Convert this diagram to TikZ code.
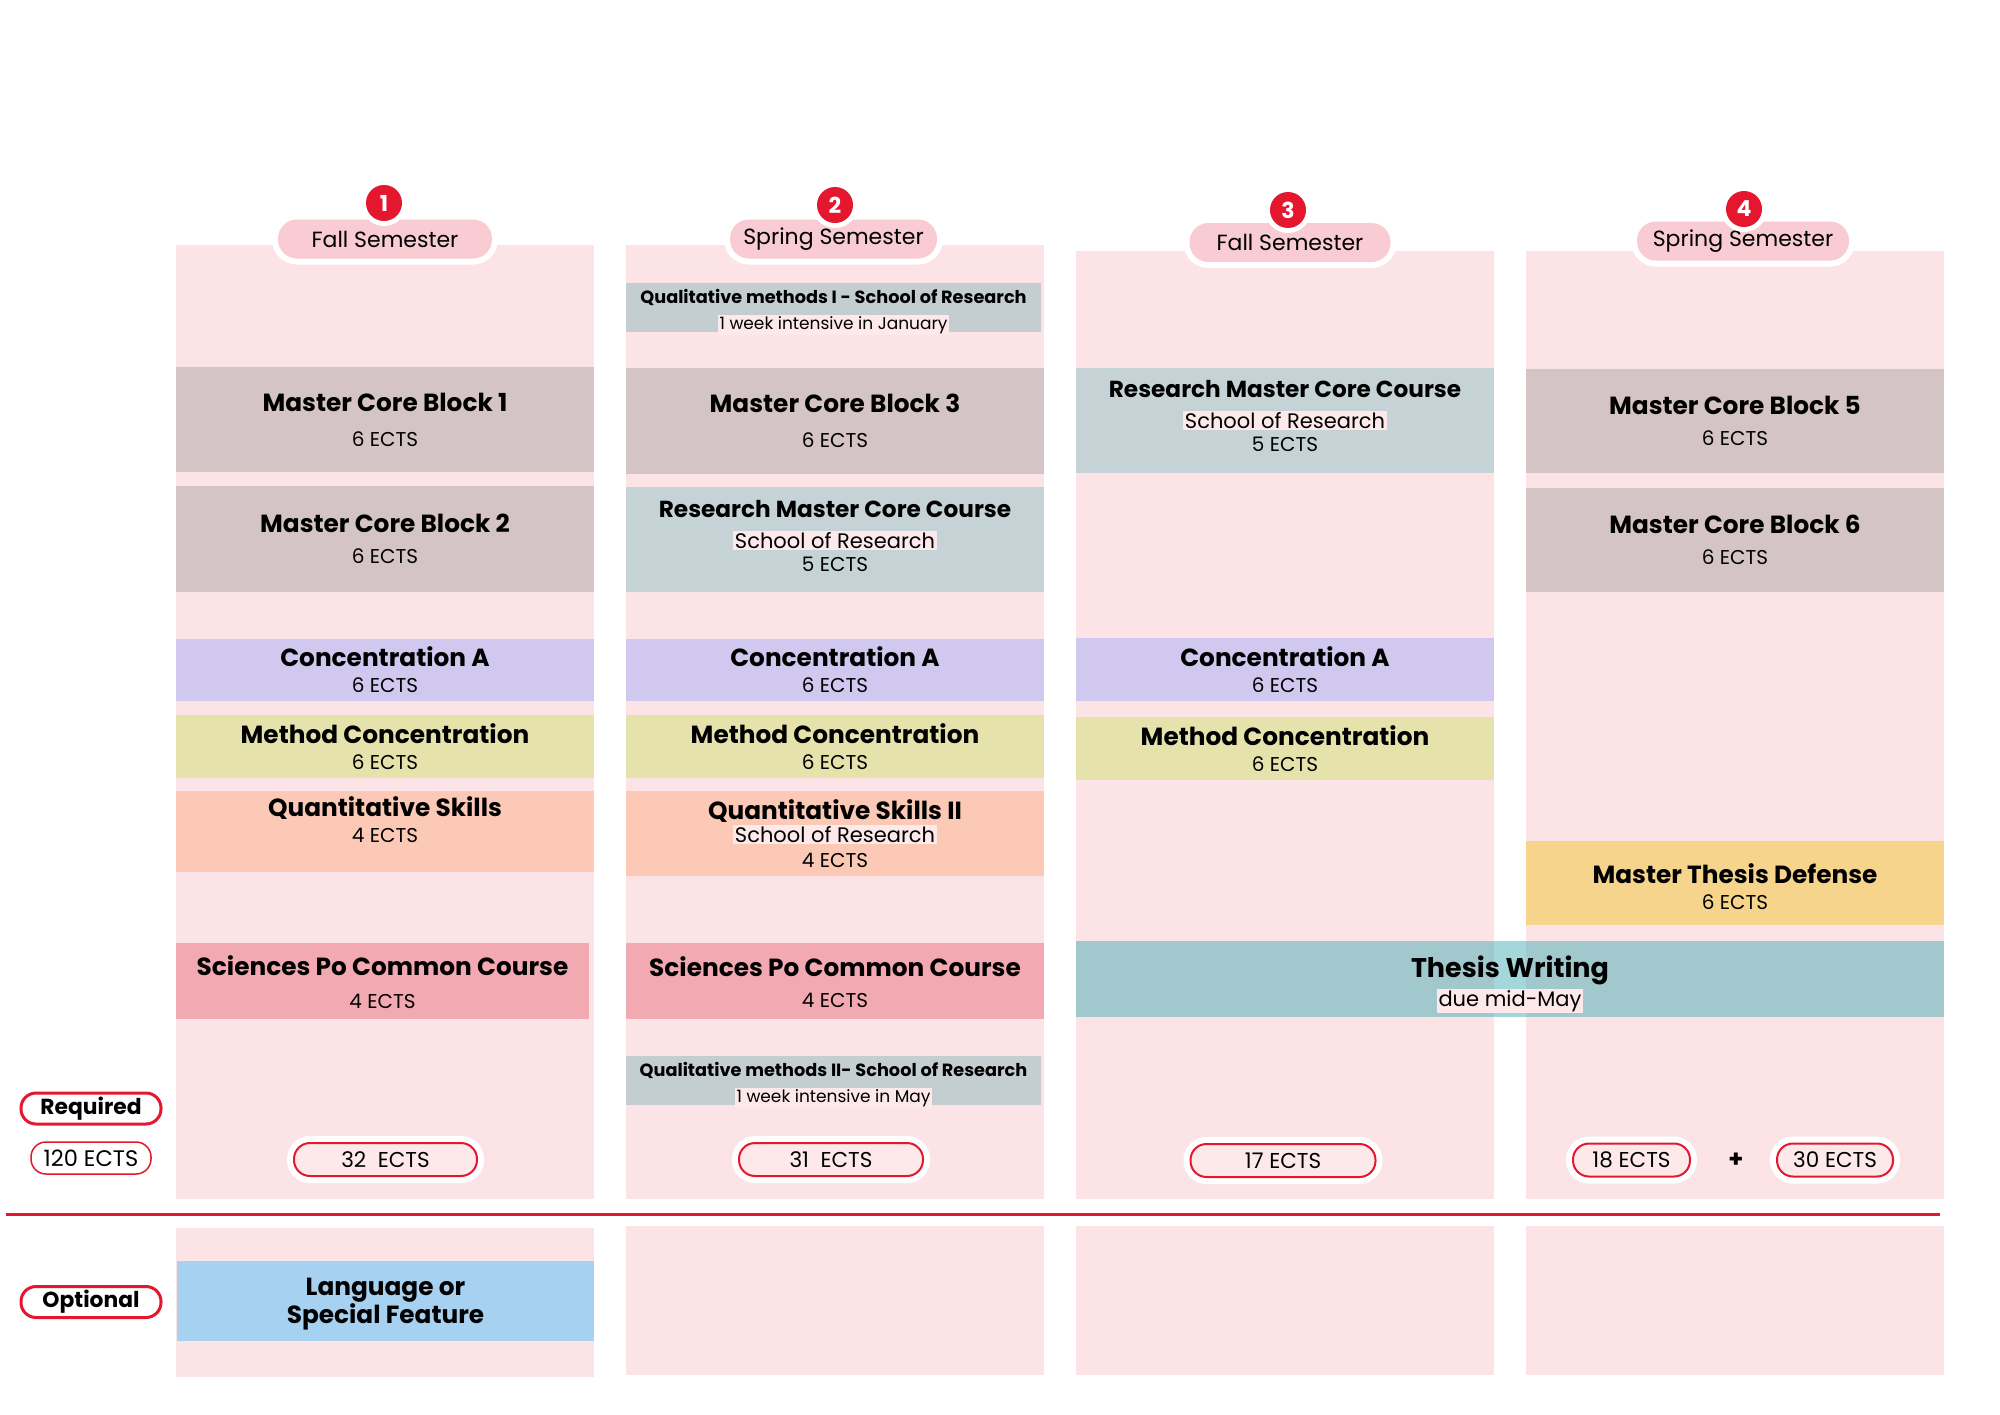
\documentclass[tikz,border=0pt]{standalone}
\usepackage{fontspec}
\setmainfont{Poppins}
\usetikzlibrary{positioning}
\definecolor{colpink}{RGB}{252,228,230}
\definecolor{headpink}{RGB}{249,203,210}
\definecolor{spred}{RGB}{228,23,47}
\definecolor{corecol}{RGB}{213,196,197}
\definecolor{rescol}{RGB}{197,211,214}
\definecolor{qualcol}{RGB}{196,205,208}
\definecolor{conccol}{RGB}{208,200,239}
\definecolor{methcol}{RGB}{229,227,171}
\definecolor{quantcol}{RGB}{251,201,182}
\definecolor{scpocol}{RGB}{243,169,178}
\definecolor{defcol}{RGB}{246,212,140}
\definecolor{thesiscol}{RGB}{52,167,176}
\definecolor{langcol}{RGB}{167,209,240}
\definecolor{hilite}{RGB}{253,232,234}
\newcommand{\hl}[1]{{\setlength{\fboxsep}{1.5pt}\colorbox{hilite}{\fontsize{21}{21}\selectfont #1}}}
\newcommand{\ttl}[1]{{\bfseries\fontsize{24.8}{24.8}\selectfont #1}}
\newcommand{\lift}[1]{\rule{0pt}{#1}}
\newcommand{\sink}[1]{\rule[-#1]{0pt}{#1}}
\tikzset{
    column/.style = {rectangle, fill=colpink, minimum width=418pt, inner sep=0pt},
    cell/.style = {rectangle, minimum width=418pt, inner sep=0pt, align=center, font=\fontsize{20}{23}\selectfont},
    corecell/.style = {cell, fill=corecol},
    rescell/.style = {cell, fill=rescol},
    qualcell/.style = {cell, fill=qualcol, minimum width=415pt, minimum height=49pt, inner ysep=-5pt, font=\fontsize{17}{20}\selectfont},
    conccell/.style = {cell, fill=conccol, minimum height=62pt},
    methcell/.style = {cell, fill=methcol, minimum height=63pt},
    quantcell/.style = {cell, fill=quantcol},
    scpocell/.style = {cell, fill=scpocol, minimum height=76pt},
    defcell/.style = {cell, fill=defcol, minimum height=84pt},
    semhead/.style = {rectangle, rounded corners=19pt, fill=headpink, preaction={draw=white, line width=12pt}, minimum height=39pt, inner sep=0pt, font=\fontsize{22}{24}\selectfont},
    semnum/.style = {circle, fill=spred, text=white, minimum size=36pt, inner sep=0pt, preaction={draw=white, line width=10pt}, font=\bfseries\fontsize{22}{22}\selectfont},
    ectspill/.style = {rectangle, rounded corners=16pt, draw=spred, line width=2pt, fill=hilite, preaction={draw=white, line width=14pt}, minimum height=33pt, inner sep=0pt, font=\fontsize{21.5}{21.5}\selectfont},
    sidepill/.style = {rectangle, rounded corners=15pt, draw=spred, fill=white, minimum height=31pt, inner sep=0pt}
}
\begin{document}
\begin{tikzpicture}[x=1pt, y=-1pt]
  \useasboundingbox (0,0) rectangle (2000,1414);

  % semester columns
  \node[column, minimum height=954pt] at (385,722) (col1) {};
  \node[column, minimum height=954pt] at (835,722) (col2) {};
  \node[column, minimum height=948pt] at (1285,725) (col3) {};
  \node[column, minimum height=948pt] at (1735,725) (col4) {};
  \node[column, minimum height=149pt] at (385,1302) (opt1) {};
  \node[column, minimum height=149pt] at (835,1300) (opt2) {};
  \node[column, minimum height=149pt] at (1285,1300) (opt3) {};
  \node[column, minimum height=149pt] at (1735,1300) (opt4) {};

  % first semester
  \node[corecell, minimum height=105pt] at (385,419.5) (mcb1) {\ttl{Master Core Block 1}\\[12pt]6 ECTS};
  \node[corecell, minimum height=106pt] at (385,539) (mcb2) {\ttl{Master Core Block 2}\\[8pt]6 ECTS};
  \node[conccell] at (385,670) (conc1) {\ttl{Concentration A}\\[3pt]6 ECTS};
  \node[methcell] at (385,746.5) (meth1) {\ttl{Method Concentration}\\[3pt]6 ECTS};
  \node[quantcell, minimum height=81pt] at (385,831.5) (quant1) {\ttl{Quantitative Skills}\\[3pt]4 ECTS\sink{23pt}};
  \node[scpocell, minimum width=413pt] at (382.5,981) (scpo1) {\ttl{\lift{22pt}Sciences Po Common Course}\\[10pt]4 ECTS};
  \node[cell, fill=langcol, minimum width=417pt, minimum height=80pt, font=\bfseries\fontsize{24.8}{25.5}\selectfont] at (385.5,1301) (lang) {\lift{24pt}Language or\\Special Feature};

  % second semester
  \node[qualcell] at (833.5,307.5) (qual1) {\textbf{\fontsize{17.7}{17.7}\selectfont\lift{23pt}Qualitative methods I - School of Research}\\[6pt]\hl{\fontsize{17}{17}\selectfont 1 week intensive in January}};
  \node[corecell, minimum height=106pt] at (835,421) (mcb3) {\ttl{Master Core Block 3}\\[12pt]6 ECTS};
  \node[rescell, minimum height=105pt] at (835,539.5) (rmcc2) {{\bfseries\fontsize{23.2}{23.2}\selectfont Research Master Core Course}\\[8pt]\hl{School of Research}\\[0pt]5 ECTS\sink{8pt}};
  \node[conccell] at (835,670) (conc2) {\ttl{Concentration A}\\[3pt]6 ECTS};
  \node[methcell] at (835,746.5) (meth2) {\ttl{Method Concentration}\\[3pt]6 ECTS};
  \node[quantcell, minimum height=85pt] at (835,833.5) (quant2) {\ttl{Quantitative Skills II}\\[0pt]\hl{School of Research}\\[2pt]4 ECTS};
  \node[scpocell] at (835,981) (scpo2) {\ttl{\lift{22pt}Sciences Po Common Course}\\[8pt]4 ECTS};
  \node[qualcell] at (833.5,1080.5) (qual2) {\textbf{\fontsize{17.7}{17.7}\selectfont\lift{23pt}Qualitative methods II- School of Research}\\[6pt]\hl{\fontsize{17}{17}\selectfont 1 week intensive in May}};

  % third semester
  \node[rescell, minimum height=105pt] at (1285,420.5) (rmcc3) {{\bfseries\fontsize{23.2}{23.2}\selectfont Research Master Core Course}\\[8pt]\hl{School of Research}\\[0pt]5 ECTS\sink{9pt}};
  \node[conccell, minimum height=63pt] at (1285,669.5) (conc3) {\ttl{Concentration A}\\[3pt]6 ECTS};
  \node[methcell] at (1285,748.5) (meth3) {\ttl{Method Concentration}\\[3pt]6 ECTS};

  % fourth semester
  \node[corecell, minimum height=104pt] at (1735,421) (mcb5) {\ttl{Master Core Block 5}\\[8pt]6 ECTS};
  \node[corecell, minimum height=104pt] at (1735,540) (mcb6) {\ttl{Master Core Block 6}\\[8pt]6 ECTS};
  \node[defcell] at (1735,883) (defense) {\ttl{\lift{28pt}Master Thesis Defense}\\[3pt]6 ECTS};
  \node[cell, fill=thesiscol, fill opacity=0.45, text opacity=1, minimum width=868pt, minimum height=76pt] at (1510,979) (thesis) {{\bfseries\fontsize{27}{27}\selectfont\lift{32pt}Thesis Writing}\\[3pt]\hl{due mid-May}};

  % semester headers
  \node[semhead, minimum width=214pt] at (385,239) (sem1) {Fall Semester};
  \node[semhead, minimum width=207pt] at (833.5,239) (sem2) {Spring Semester};
  \node[semhead, minimum width=201pt] at (1290,242.5) (sem3) {Fall Semester};
  \node[semhead, minimum width=212pt] at (1743,241) (sem4) {Spring Semester};
  \node[semnum] at (384,203) (num1) {1};
  \node[semnum] at (835,205) (num2) {2};
  \node[semnum] at (1288,210) (num3) {3};
  \node[semnum] at (1744,209) (num4) {4};

  % credits
  \node[ectspill, minimum width=183pt] at (385.5,1159.5) (ects1) {32\ \ ECTS};
  \node[ectspill, minimum width=184pt] at (831,1159.5) (ects2) {31\ \ ECTS};
  \node[ectspill, minimum width=185pt] at (1283,1160.5) (ects3) {17 ECTS};
  \node[ectspill, minimum width=117pt] at (1631.5,1160) (ects4a) {18 ECTS};
  \node[font=\bfseries\fontsize{24}{24}\selectfont] at (1736,1160) (plus) {+};
  \node[ectspill, minimum width=116pt] at (1835,1160) (ects4b) {30 ECTS};

  % required / optional
  \coordinate (divl) at (6,1214);
  \coordinate (divr) at (1940,1214);
  \draw[spred, line width=3pt] (divl) -- (divr);
  \node[sidepill, line width=3pt, minimum width=140pt, font=\bfseries\fontsize{21.8}{21.8}\selectfont] at (91,1108.5) (req) {Required};
  \node[sidepill, line width=1.5pt, minimum width=120pt, minimum height=32pt, font=\fontsize{22.5}{22.5}\selectfont] at (91,1158) (total) {120 ECTS};
  \node[sidepill, line width=3pt, minimum width=140pt, font=\bfseries\fontsize{21.8}{21.8}\selectfont] at (91,1302) (opt) {Optional};
\end{tikzpicture}
\end{document}
